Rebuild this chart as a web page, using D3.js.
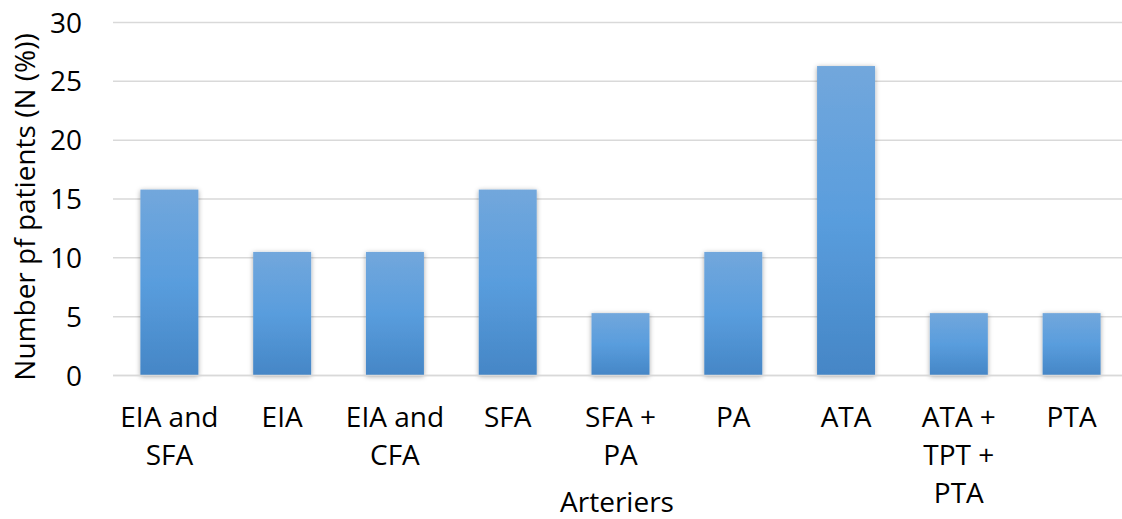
<!DOCTYPE html>
<html>
<head>
<meta charset="utf-8">
<script src="https://cdn.jsdelivr.net/npm/d3@7/dist/d3.min.js"></script>
<style>
  body { margin: 0; background: #fff; }
  svg { display: block; font-family: "Open Sans", "Liberation Sans", sans-serif; }
</style>
</head>
<body>
<svg id="chart" width="1122" height="519"></svg>
<script>
const categories = [
  ['EIA and', 'SFA'],
  ['EIA'],
  ['EIA and', 'CFA'],
  ['SFA'],
  ['SFA +', 'PA'],
  ['PA'],
  ['ATA'],
  ['ATA +', 'TPT +', 'PTA'],
  ['PTA']
];
const values = [15.8, 10.5, 10.5, 15.8, 5.3, 10.5, 26.3, 5.3, 5.3];
const yTicks = [0, 5, 10, 15, 20, 25, 30];

const svg = d3.select('#chart');
const margin = { top: 22.5, right: -6, bottom: 143.5, left: 113 };
const width = 1122 - margin.left - margin.right;
const height = 519 - margin.top - margin.bottom;

const defs = svg.append('defs');
const grad = defs.append('linearGradient')
  .attr('id', 'barGrad')
  .attr('x1', 0).attr('y1', 0).attr('x2', 0).attr('y2', 1);
grad.append('stop').attr('offset', '0%').attr('stop-color', '#72a7dc');
grad.append('stop').attr('offset', '50%').attr('stop-color', '#599ddd');
grad.append('stop').attr('offset', '100%').attr('stop-color', '#4586c6');

const shadow = defs.append('filter').attr('id', 'shadow')
  .attr('x', '-20%').attr('y', '-10%').attr('width', '140%').attr('height', '120%');
shadow.append('feDropShadow')
  .attr('dx', 0).attr('dy', 1).attr('stdDeviation', 2.5)
  .attr('flood-color', '#000').attr('flood-opacity', 0.35);

const idx = categories.map((d, i) => i);

const x = d3.scaleBand()
  .domain(idx)
  .range([0, width])
  .paddingInner(0.486)
  .paddingOuter(0.243);

const y = d3.scaleLinear()
  .domain([0, 30])
  .range([height, 0]);

const g = svg.append('g')
  .attr('transform', `translate(${margin.left},${margin.top})`);

// gridlines
g.append('g')
  .selectAll('line')
  .data(yTicks)
  .enter()
  .append('line')
  .attr('x1', 0)
  .attr('x2', width)
  .attr('y1', (d) => y(d))
  .attr('y2', (d) => y(d))
  .attr('stroke', '#d9d9d9')
  .attr('stroke-width', 1.5);

// y tick labels
g.append('g')
  .selectAll('text')
  .data(yTicks)
  .enter()
  .append('text')
  .attr('x', -31)
  .attr('y', (d) => y(d) + 10)
  .attr('text-anchor', 'end')
  .attr('font-size', 28)
  .attr('fill', '#000')
  .text((d) => d);

// bars
g.append('g')
  .selectAll('rect')
  .data(values)
  .enter()
  .append('rect')
  .attr('x', (d, i) => x(i))
  .attr('y', (d) => y(d))
  .attr('width', x.bandwidth())
  .attr('height', (d) => height - y(d))
  .attr('fill', 'url(#barGrad)')
  .attr('filter', 'url(#shadow)');

// x axis line
g.append('line')
  .attr('x1', 0).attr('x2', width)
  .attr('y1', height).attr('y2', height)
  .attr('stroke', '#d9d9d9')
  .attr('stroke-width', 1.5);

// x tick labels
const xl = g.append('g')
  .selectAll('text')
  .data(categories)
  .enter()
  .append('text')
  .attr('x', (d, i) => x(i) + x.bandwidth() / 2)
  .attr('y', height + 51)
  .attr('text-anchor', 'middle')
  .attr('font-size', 28)
  .attr('fill', '#000');
xl.selectAll('tspan')
  .data((d) => d)
  .enter()
  .append('tspan')
  .attr('x', function () { return d3.select(this.parentNode).attr('x'); })
  .attr('dy', (d, i) => (i === 0 ? 0 : 38))
  .text((d) => d);

// axis titles
svg.append('text')
  .attr('x', 617)
  .attr('y', 512)
  .attr('text-anchor', 'middle')
  .attr('font-size', 28)
  .text('Arteriers');

svg.append('text')
  .attr('transform', 'translate(35,207) rotate(-90)')
  .attr('text-anchor', 'middle')
  .attr('font-size', 28)
  .text('Number pf patients (N (%))');
</script>
</body>
</html>
